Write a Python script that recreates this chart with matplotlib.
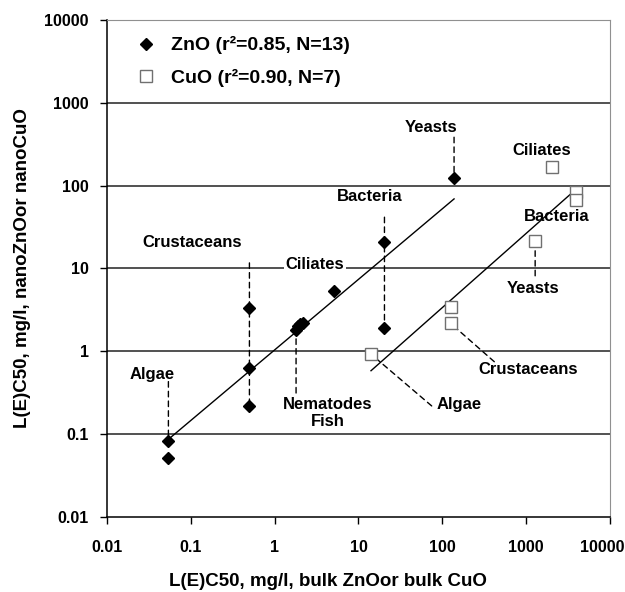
import numpy as np
import matplotlib.pyplot as plt
import matplotlib.transforms as mtransforms

plt.rcParams['font.family'] = ['Liberation Sans', 'DejaVu Sans']
plt.rcParams['font.weight'] = 'bold'

# ZnO: bulk vs nano L(E)C50, mg/l
zno_bulk = [0.054, 0.054, 0.5, 0.5, 0.5, 1.8, 1.9, 2.0, 2.2, 5.1, 20.4, 20.4, 138]
zno_nano = [0.083, 0.051, 3.3, 0.62, 0.22, 1.8, 2.0, 2.1, 2.2, 5.4, 21, 1.9, 124]

# CuO: bulk vs nano L(E)C50, mg/l
cuo_bulk = [14.1, 126, 126, 1280, 2030, 3920, 3920]
cuo_nano = [0.92, 3.4, 2.16, 21.3, 166, 83, 66.5]

zno_label = 'ZnO (r²=0.85, N=13)'
cuo_label = 'CuO (r²=0.90, N=7)'

fig = plt.figure(figsize=(6.25, 5.92), dpi=100)
ax = fig.add_axes([0.1712, 0.1272, 0.8048, 0.839])

ax.set_xscale('log')
ax.set_yscale('log')
ax.set_xlim(0.01, 10000)
ax.set_ylim(0.01, 10000)

# horizontal gridlines at decades
for v in [0.1, 1, 10, 100, 1000]:
    ax.axhline(v, color='#222222', lw=1.1, zorder=1)

# regression lines in log-log space
def fit_line(xs, ys):
    lx, ly = np.log10(xs), np.log10(ys)
    k, b = np.polyfit(lx, ly, 1)
    xx = np.array([lx.min(), lx.max()])
    return 10 ** xx, 10 ** (k * xx + b)

fx, fy = fit_line(zno_bulk, zno_nano)
ax.plot(fx, fy, color='black', lw=1, zorder=2)
fx, fy = fit_line(cuo_bulk, cuo_nano)
ax.plot(fx, fy, color='black', lw=1, zorder=2)

# dashed leader lines
lead = dict(arrowstyle='-', ls=(0, (4, 3)), lw=1, color='black',
            shrinkA=0, shrinkB=0)
def leader(x, y, tx, ty, coords=('data', 'axes fraction')):
    ax.annotate('', xy=(x, y), xytext=(tx, ty), textcoords=coords,
                arrowprops=lead, zorder=2)

leader(zno_bulk[0], zno_nano[0], zno_bulk[0], 0.272)
leader(zno_bulk[4], zno_nano[4], zno_bulk[4], 0.511)
leader(zno_bulk[5], zno_nano[5], zno_bulk[5], 0.249)
leader(zno_bulk[11], zno_nano[11], zno_bulk[11], 0.603)
leader(zno_bulk[12], zno_nano[12], zno_bulk[12], 0.764)
leader(cuo_bulk[3], cuo_nano[3], cuo_bulk[3], 0.485)
leader(cuo_bulk[2], cuo_nano[2], 0.770, 0.312, 'axes fraction')
leader(cuo_bulk[0], cuo_nano[0], 0.6455, 0.223, 'axes fraction')

ax.plot(zno_bulk, zno_nano, 'D', color='black', ms=6, zorder=4,
        label=zno_label)
ax.plot(cuo_bulk, cuo_nano, 's', mfc='white', mec='#707070', mew=1,
        ms=8.5, zorder=4, label=cuo_label)

# group labels
fs = 12
labels = [
    ('Algae', 0.089, 0.287),
    ('Crustaceans', 0.169, 0.552),
    ('Nematodes\nFish', 0.439, 0.209),
    ('Bacteria', 0.523, 0.645),
    ('Yeasts', 0.644, 0.783),
    ('Ciliates', 0.865, 0.738),
    ('Bacteria', 0.894, 0.605),
    ('Yeasts', 0.8475, 0.460),
    ('Crustaceans', 0.8376, 0.297),
    ('Algae', 0.7004, 0.225),
]
for txt, x, y in labels:
    ax.text(x, y, txt, transform=ax.transAxes, ha='center', va='center',
            fontsize=fs, fontweight='bold', linespacing=1.2, zorder=5)
ax.text(0.4135, 0.507, 'Ciliates', transform=ax.transAxes, ha='center',
        va='center', fontsize=fs, fontweight='bold', zorder=5,
        bbox=dict(facecolor='white', edgecolor='none', pad=1.5))

ax.legend(loc='upper left', bbox_to_anchor=(0.05, 0.975), frameon=False,
          handlelength=1.0, handletextpad=0.8, labelspacing=0.75,
          prop={'weight': 'bold', 'size': 14}, borderaxespad=0.0,
          borderpad=0.2)

for s in ['top', 'right']:
    ax.spines[s].set_color('#909090')
ax.spines['left'].set_linewidth(1.1)
ax.spines['bottom'].set_linewidth(1.1)

ticks = [0.01, 0.1, 1, 10, 100, 1000, 10000]
ticklabels = ['0.01', '0.1', '1', '10', '100', '1000', '10000']
ax.set_xticks(ticks)
ax.set_xticklabels(ticklabels)
ax.set_yticks(ticks)
ax.set_yticklabels(ticklabels)
ax.minorticks_off()
ax.tick_params(axis='both', direction='out', length=5, width=1,
               labelsize=11.5)
ax.tick_params(axis='x', pad=12)
ax.tick_params(axis='y', pad=8)

# keep the last x tick label inside the figure
last = ax.get_xticklabels()[-1]
last.set_transform(last.get_transform() +
                   mtransforms.ScaledTranslation(-8 / 100, 0, fig.dpi_scale_trans))

ax.set_xlabel('L(E)C50, mg/l, bulk ZnOor bulk CuO', fontsize=13.5,
              fontweight='bold', labelpad=13)
ax.xaxis.label.set_x(0.439)
ax.set_ylabel('L(E)C50, mg/l, nanoZnOor nanoCuO', fontsize=13.5,
              fontweight='bold', labelpad=10)

fig.savefig('out.png', dpi=100)
